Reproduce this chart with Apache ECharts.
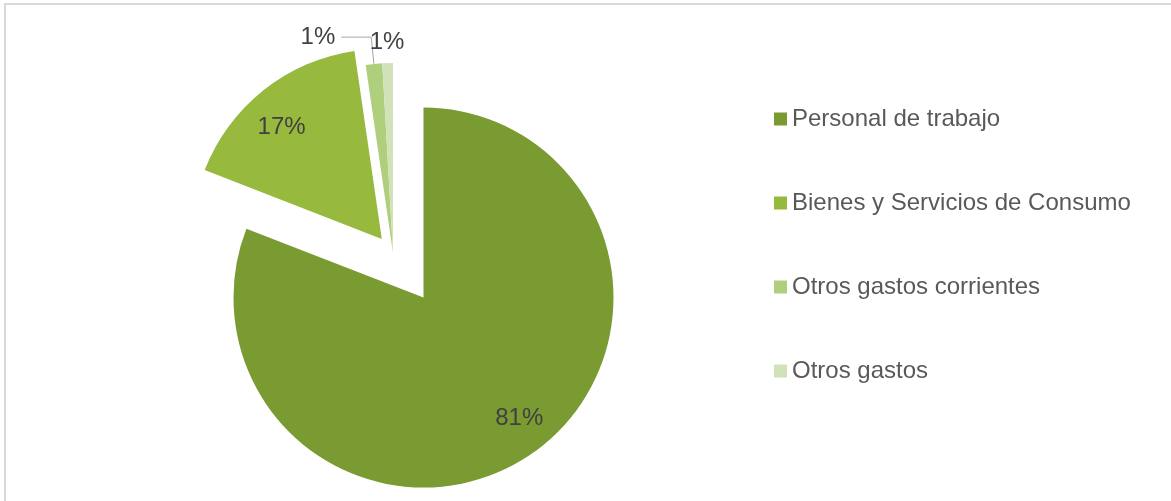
<!DOCTYPE html>
<html>
<head>
<meta charset="utf-8">
<script src="https://cdn.jsdelivr.net/npm/echarts@6/dist/echarts.min.js"></script>
<style>
  html, body { margin: 0; padding: 0; background: #fff; overflow: hidden; }
  #frame {
    position: absolute; left: 4px; top: 3px; width: 1300px; height: 700px;
    border-left: 2px solid #d9d9d9; border-top: 2px solid #d9d9d9;
  }
  #chart { position: absolute; left: 0; top: 0; width: 1171px; height: 501px; }
</style>
</head>
<body>
<div id="frame"></div>
<div id="chart"></div>
<script>
const categories = ['Personal de trabajo', 'Bienes y Servicios de Consumo', 'Otros gastos corrientes', 'Otros gastos'];
const values = [80.9, 16.8, 1.4, 0.9];
const colors = ['#7a9a32', '#97b93e', '#afcf7d', '#d1e2b8'];

const center = [393, 253];
const textFont = 'Liberation Sans, Arial, sans-serif';

function pct(p) {
  return Math.round(p.percent) + '%';
}

// one pie layer: only the slices in `shown` are painted, the others stay transparent
function layer(shown, selected, labelled) {
  return categories.map((name, i) => ({
    name: name,
    value: values[i],
    selected: selected.includes(i),
    itemStyle: { color: shown.includes(i) ? colors[i] : 'transparent' },
    label: { show: labelled.includes(i) },
    labelLine: { show: labelled.includes(i) },
  }));
}

function pieLayer(extra) {
  return Object.assign({
    type: 'pie',
    center: center,
    radius: 190,
    startAngle: 90,
    clockwise: true,
    selectedMode: 'multiple',
    selectedOffset: 0,
    avoidLabelOverlap: false,
    silent: true,
    animation: false,
    emphasis: { disabled: true },
    label: {
      position: 'inside',
      formatter: pct,
      fontFamily: textFont,
      fontSize: 24,
      color: '#404040',
    },
    labelLine: { show: false },
  }, extra);
}

const chart = echarts.init(document.getElementById('chart'));

chart.setOption({
  backgroundColor: 'transparent',
  legend: {
    orient: 'vertical',
    left: 769,
    top: 102,
    icon: 'rect',
    itemWidth: 13,
    itemHeight: 13,
    itemGap: 60,
    itemTextGap: 5,
    selectedMode: false,
    textStyle: { fontFamily: textFont, fontSize: 24, lineHeight: 24, color: '#595959' },
    data: categories.map((name, i) => ({ name: name, itemStyle: { color: colors[i] } })),
  },
  series: [
    // big slice, pulled out
    pieLayer({ selectedOffset: 54, data: layer([0], [0], []) }),
    // the rest; 17% pulled out a little, small ones in place
    pieLayer({
      selectedOffset: 18,
      data: layer([1, 2, 3], [1], [2]),
      label: {
        position: 'outside',
        formatter: pct,
        fontFamily: textFont,
        fontSize: 24,
        color: '#404040',
        distanceToLabelLine: 6,
        padding: [0, 0, 8, 0],
      },
      labelLine: { length: 27, length2: 30, lineStyle: { color: '#a6a6a6', width: 1 } },
    }),
    // label-only layers (transparent), radius sets where the inside text sits
    pieLayer({ radius: 410, startAngle: 93, data: layer([], [], [0]) }),
    pieLayer({ radius: 330, startAngle: 93, data: layer([], [], [1]) }),
    pieLayer({ radius: 416, data: layer([], [], [3]) }),
  ],
});
</script>
</body>
</html>
